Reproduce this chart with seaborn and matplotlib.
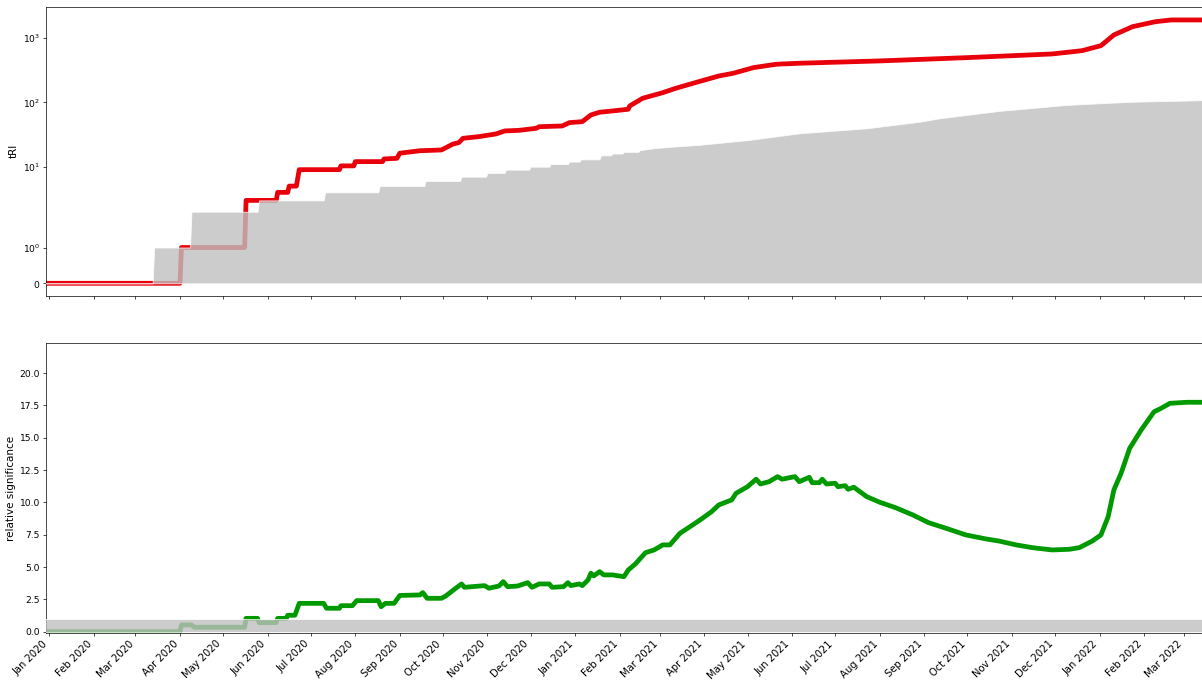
import pandas as pd
import matplotlib
matplotlib.use("Agg")
import matplotlib.pyplot as plt
import matplotlib.dates as mdates
from matplotlib.ticker import NullLocator, FixedLocator, FormatStrFormatter
import seaborn as sns

# --- tRI series (red line) ---
tri_dates = [
    "2019-12-29", "2020-04-01", "2020-04-02", "2020-05-16", "2020-05-17", "2020-06-07",
    "2020-06-08", "2020-06-15", "2020-06-16", "2020-06-21", "2020-06-23", "2020-07-21",
    "2020-07-22", "2020-07-31", "2020-08-01", "2020-08-20", "2020-08-21", "2020-08-30",
    "2020-09-01", "2020-09-15", "2020-09-30", "2020-10-08", "2020-10-12", "2020-10-15",
    "2020-10-26", "2020-11-07", "2020-11-13", "2020-11-23", "2020-12-05", "2020-12-07",
    "2020-12-23", "2020-12-28", "2021-01-06", "2021-01-12", "2021-01-18", "2021-01-27",
    "2021-02-07", "2021-02-08", "2021-02-17", "2021-03-03", "2021-03-12", "2021-03-28",
    "2021-04-11", "2021-04-21", "2021-05-05", "2021-05-21", "2021-06-06", "2021-08-01",
    "2021-09-30", "2021-11-29", "2021-12-20", "2022-01-02", "2022-01-11", "2022-01-24",
    "2022-02-09", "2022-02-20", "2022-03-15",
]
tri_values = [
    0, 0, 1, 1, 3, 3,
    4, 4, 5, 5, 9, 9,
    10.3, 10.3, 12, 12, 13.2, 13.5,
    16.2, 17.7, 18.2, 22.5, 23.6, 27.6,
    29.3, 32.3, 35.9, 36.7, 39.5, 41.8,
    42.9, 48.3, 50.1, 63.6, 70.1, 73.4,
    78, 87.7, 115.5, 141, 165, 209,
    256, 282, 345, 390, 404, 439,
    493, 563, 634, 758, 1111, 1494,
    1786, 1900, 1900,
]

# --- significance threshold (grey area, top panel) ---
thr_dates = [
    "2019-12-29", "2020-03-13", "2020-03-14", "2020-04-08", "2020-04-09", "2020-05-25",
    "2020-05-26", "2020-07-10", "2020-07-11", "2020-08-17", "2020-08-18", "2020-09-18",
    "2020-09-19", "2020-10-13", "2020-10-14", "2020-10-31", "2020-11-01", "2020-11-13",
    "2020-11-14", "2020-11-30", "2020-12-01", "2020-12-14", "2020-12-15", "2020-12-27",
    "2020-12-28", "2021-01-04", "2021-01-05", "2021-01-18", "2021-01-19", "2021-01-26",
    "2021-01-27", "2021-02-03", "2021-02-04", "2021-02-14", "2021-02-15", "2021-02-24",
    "2021-03-10", "2021-03-28", "2021-05-02", "2021-06-06", "2021-07-23", "2021-08-29",
    "2021-09-12", "2021-10-23", "2021-12-09", "2022-01-01", "2022-01-24", "2022-03-15",
]
thr_values = [
    0, 0, 1, 1, 2, 2,
    3, 3, 4, 4, 5, 5,
    6, 6, 7, 7, 8, 8,
    9, 9, 10, 10, 11, 11,
    12, 12, 13, 13, 15, 15,
    16, 16, 17, 17, 18, 19.3,
    20.5, 21.8, 26, 33, 39.5, 50,
    56.5, 73.4, 91, 96.6, 102, 108,
]

# --- relative significance (green line) ---
sig_dates = [
    "2019-12-29", "2020-04-01", "2020-04-02", "2020-04-09", "2020-04-11", "2020-05-16",
    "2020-05-17", "2020-05-25", "2020-05-26", "2020-06-07", "2020-06-08", "2020-06-14",
    "2020-06-15", "2020-06-20", "2020-06-23", "2020-07-10", "2020-07-12", "2020-07-21",
    "2020-07-22", "2020-07-30", "2020-08-02", "2020-08-17", "2020-08-19", "2020-08-22",
    "2020-08-28", "2020-09-01", "2020-09-15", "2020-09-17", "2020-09-20", "2020-09-30",
    "2020-10-03", "2020-10-09", "2020-10-14", "2020-10-16", "2020-10-30", "2020-11-02",
    "2020-11-09", "2020-11-12", "2020-11-15", "2020-11-22", "2020-11-29", "2020-12-02",
    "2020-12-07", "2020-12-14", "2020-12-16", "2020-12-24", "2020-12-27", "2020-12-29",
    "2021-01-04", "2021-01-06", "2021-01-10", "2021-01-12", "2021-01-14", "2021-01-18",
    "2021-01-21", "2021-01-27", "2021-02-04", "2021-02-07", "2021-02-12", "2021-02-19",
    "2021-02-25", "2021-03-03", "2021-03-08", "2021-03-15", "2021-03-22", "2021-03-29",
    "2021-04-06", "2021-04-11", "2021-04-20", "2021-04-23", "2021-05-01", "2021-05-07",
    "2021-05-10", "2021-05-16", "2021-05-22", "2021-05-25", "2021-06-03", "2021-06-06",
    "2021-06-13", "2021-06-15", "2021-06-20", "2021-06-22", "2021-06-25", "2021-07-01",
    "2021-07-03", "2021-07-08", "2021-07-10", "2021-07-14", "2021-07-23", "2021-08-01",
    "2021-08-12", "2021-08-24", "2021-09-04", "2021-09-16", "2021-09-30", "2021-10-14",
    "2021-10-23", "2021-11-04", "2021-11-15", "2021-11-29", "2021-12-11", "2021-12-18",
    "2021-12-27", "2022-01-02", "2022-01-07", "2022-01-11", "2022-01-16", "2022-01-22",
    "2022-01-30", "2022-02-08", "2022-02-13", "2022-02-19", "2022-03-03", "2022-03-15",
]
sig_values = [
    0, 0, 0.52, 0.52, 0.34, 0.34,
    1.03, 1.03, 0.70, 0.70, 1.03, 1.03,
    1.27, 1.27, 2.19, 2.19, 1.81, 1.81,
    2.01, 2.01, 2.40, 2.40, 1.93, 2.19,
    2.19, 2.80, 2.84, 3.02, 2.58, 2.58,
    2.76, 3.28, 3.69, 3.43, 3.56, 3.36,
    3.53, 3.87, 3.48, 3.53, 3.79, 3.43,
    3.69, 3.69, 3.43, 3.48, 3.79, 3.56,
    3.69, 3.56, 4.00, 4.52, 4.31, 4.64,
    4.39, 4.39, 4.25, 4.77, 5.24, 6.11,
    6.32, 6.71, 6.71, 7.61, 8.12, 8.64,
    9.28, 9.80, 10.19, 10.70, 11.21, 11.79,
    11.42, 11.60, 11.99, 11.79, 11.99, 11.60,
    11.94, 11.52, 11.52, 11.79, 11.42, 11.48,
    11.21, 11.29, 11.01, 11.17, 10.44, 10.01,
    9.59, 9.03, 8.43, 8.00, 7.48, 7.17,
    7.01, 6.71, 6.50, 6.32, 6.37, 6.50,
    7.01, 7.48, 8.89, 10.96, 12.25, 14.18,
    15.60, 17.01, 17.28, 17.66, 17.74, 17.74,
]

# grey band marking the significance level in the lower panel
band_dates = ["2019-12-29", "2022-03-15"]
band_low = [0, 0]
band_high = [1, 1]

tri_ticks = [0, 1, 10, 100, 1000]
sig_ticks = [0.0, 2.5, 5.0, 7.5, 10.0, 12.5, 15.0, 17.5, 20.0]

RED = "#e8000b"
GREEN = "#009900"
SHADE = dict(facecolor="silver", edgecolor="white", linewidth=1.0, alpha=0.8, zorder=3)

DPI = 62.5
W, H = 1202, 686
fig = plt.figure(figsize=(W / DPI, H / DPI), dpi=DPI)
ax_sig = fig.add_axes([46 / W, 1 - 632.7 / H, 1 - 46 / W, 289.4 / H])
ax_tri = fig.add_axes([46 / W, 1 - 296 / H, 1 - 46 / W, 289.3 / H], sharex=ax_sig)

# top panel: tRI on a symmetric log scale
sns.lineplot(x=pd.to_datetime(tri_dates), y=tri_values, ax=ax_tri, color=RED,
             linewidth=5.5, estimator=None, sort=False, legend=False)
ax_tri.fill_between(pd.to_datetime(thr_dates), 0, thr_values, **SHADE)
ax_tri.set_yscale("symlog", linthresh=2, linscale=1)
ax_tri.yaxis.set_major_locator(FixedLocator(tri_ticks))
ax_tri.yaxis.set_minor_locator(NullLocator())
ax_tri.set_ylim(-0.355, 3050)
ax_tri.set_ylabel("tRI", fontsize=12)
ax_tri.tick_params(labelbottom=False)

# bottom panel: relative significance
sns.lineplot(x=pd.to_datetime(sig_dates), y=sig_values, ax=ax_sig, color=GREEN,
             linewidth=5.5, estimator=None, sort=False, legend=False)
ax_sig.fill_between(pd.to_datetime(band_dates), band_low, band_high, **SHADE)
ax_sig.set_yticks(sig_ticks)
ax_sig.yaxis.set_major_formatter(FormatStrFormatter("%.1f"))
ax_sig.set_ylim(-0.08, 22.3)
ax_sig.set_ylabel("relative significance", fontsize=12)

ax_sig.set_xlim(pd.Timestamp("2019-12-29 18:00"), pd.Timestamp("2022-03-13 08:00"))
ax_sig.xaxis.set_major_locator(mdates.MonthLocator())
ax_sig.xaxis.set_major_formatter(mdates.DateFormatter("%b %Y"))
ax_sig.xaxis.set_minor_locator(NullLocator())
ax_sig.tick_params(axis="x", labelsize=11.5)
plt.setp(ax_sig.get_xticklabels(), rotation=45, ha="right")

for ax in (ax_tri, ax_sig):
    ax.tick_params(axis="y", labelsize=10.5)
    ax.spines["right"].set_visible(False)
    ax.set_xlabel("")

fig.savefig("out.png", dpi=DPI)
